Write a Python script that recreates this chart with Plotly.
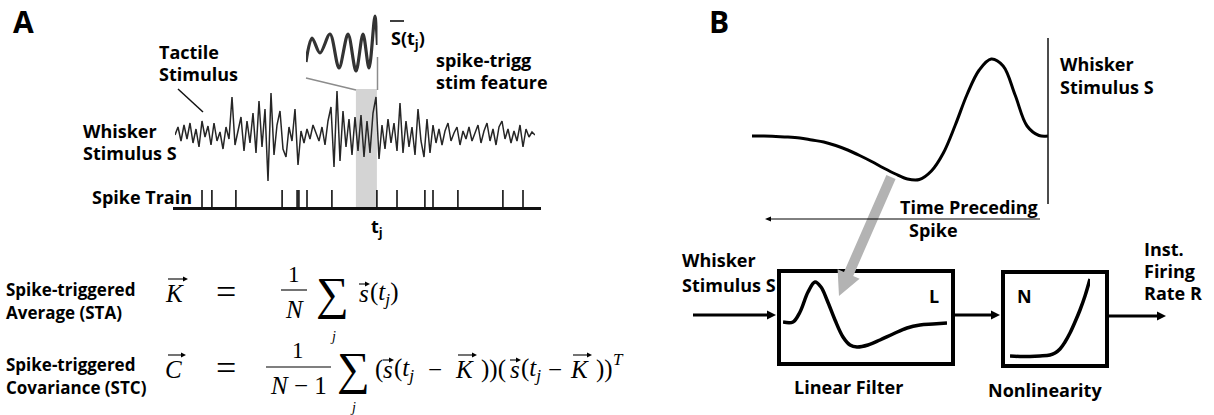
import plotly.graph_objects as go

W, H = 1214, 415

# ---------------- data ----------------
# Panel A: whisker stimulus trace (deflection, a.u.), uniformly sampled
whisker_signal = [0, 8, -6, 10, -4, 12, -8, 6, -12, 14, -2, 9, -10, 12, -6, 3, -14, 8, -4, 38,
                  -10, 6, 18, -16, 14, -8, 22, -18, 34, -12, 26, -46, 42, -20, 10, 24, -14, -22, 8, -6,
                  26, -30, 4, -8, 6, -4, 10, 2, -6, 8, -10, 14, 28, -32, 44, -26, 24, -12, 16, -20,
                  18, -16, 20, -22, 14, -18, 22, 38, -24, 10, -14, 16, -8, 12, -16, 32, -18, 14, -12, 8,
                  -20, 26, -6, -22, 16, -18, 10, -8, 6, -10, 4, 12, -6, 2, 8, -10, 4, -4, 8, -6,
                  3, 10, -8, 4, 12, -6, 6, -10, 8, 14, -4, 6, -8, 4, -6, 10, -12, 6, -2, 3, 0]
signal_time = list(range(len(whisker_signal)))

# spike times (same time units as the stimulus samples)
spike_times = [9, 12.3, 20.3, 35.7, 40.7, 41.3, 44, 52.3, 67.3, 74, 83.3, 86, 94.3, 109.3, 116]
t_j = 67.3
sta_window = 7.0

# inset: spike-triggered stimulus feature S(t_j)
inset_time = [0, 6, 14, 24, 33, 42, 50, 57, 63, 69, 71.5]
inset_vals = [18, 42, 27, 46, 12, 46, 9, 46, 12, 64, 35]

# Panel B: spike-triggered average vs time preceding spike
sta_lag = [-99, -95, -91, -87, -83, -79, -75, -71, -67, -63, -59, -55, -51, -47, -43, -39,
           -35, -31, -27, -23, -19, -15, -11, -7, -3, 0]
sta_vals = [0, 0, -0.5, -1, -2, -4, -6, -9.5, -14, -19.5, -25.5, -32, -38, -43, -43.5, -35,
            -17, 11, 42, 66, 77, 70, 41, 10, 0.5, 0]

# linear filter drawn in box L
filt_t = [0, 10, 17, 25, 32, 38, 44, 52, 60, 67, 74, 85, 97, 110, 124, 137, 150, 164]
filt_vals = [1, 1, 11, 31, 41, 36, 23, 3, -14, -22, -24, -22, -17, -11, -5, -2, -1, 0]

# static nonlinearity drawn in box N
nl_in = [0, 10, 20, 30, 40, 45, 50, 55, 60, 65, 70, 75, 80]
nl_out = [0, -0.5, -0.5, 0, 1, 3, 7, 14, 23, 34, 46, 60, 77]


# ---------------- helpers ----------------
def fx(x):
    return x / W


def fy(y):
    return 1 - y / H


layout = dict(width=W, height=H, margin=dict(l=0, r=0, t=0, b=0),
              paper_bgcolor="white", plot_bgcolor="rgba(0,0,0,0)", showlegend=False,
              xaxis=dict(visible=False, domain=[0, 0.01]), yaxis=dict(visible=False, domain=[0, 0.01]))


def axpair(n, xd, yd, xr, yr):
    layout[f"xaxis{n}"] = dict(domain=[fx(xd[0]), fx(xd[1])], range=xr, anchor=f"y{n}",
                               visible=False, fixedrange=True)
    layout[f"yaxis{n}"] = dict(domain=[fy(yd[1]), fy(yd[0])], range=yr, anchor=f"x{n}",
                               visible=False, fixedrange=True)


axpair(2, (175, 535), (85, 190), [0, 120], [-55, 50])          # stimulus
axpair(3, (173, 541), (190, 207), [-0.667, 122], [0, 1])       # spike train
layout["xaxis3"].update(visible=True, showline=True, linecolor="#111", linewidth=2.5,
                        showticklabels=False, ticks="", showgrid=False, zeroline=False)
axpair(4, (306, 377.5), (14, 80), [0, 71.5], [0, 66])          # inset
axpair(5, (752, 1048), (50, 190), [-99, 0], [-54, 86])         # STA panel B
axpair(6, (783, 947), (275, 355), [0, 164], [-32, 48])         # filter
axpair(7, (1010, 1090), (270, 360), [0, 80], [-4, 86])         # nonlinearity

fig = go.Figure()
fig.add_trace(go.Scatter(x=signal_time, y=whisker_signal, xaxis="x2", yaxis="y2", mode="lines",
                         line=dict(color="#262626", width=1.5), hoverinfo="skip"))
sx, sy = [], []
for t in spike_times:
    sx += [t, t, None]
    sy += [0, 1, None]
fig.add_trace(go.Scatter(x=sx, y=sy, xaxis="x3", yaxis="y3", mode="lines",
                         line=dict(color="#111", width=1.6), hoverinfo="skip"))
fig.add_trace(go.Scatter(x=inset_time, y=inset_vals, xaxis="x4", yaxis="y4", mode="lines",
                         line=dict(color="#333", width=3.2, shape="spline", smoothing=0.9),
                         hoverinfo="skip"))
fig.add_trace(go.Scatter(x=sta_lag, y=sta_vals, xaxis="x5", yaxis="y5", mode="lines",
                         line=dict(color="black", width=3, shape="spline", smoothing=1.0),
                         hoverinfo="skip"))
fig.add_trace(go.Scatter(x=filt_t, y=filt_vals, xaxis="x6", yaxis="y6", mode="lines",
                         line=dict(color="black", width=3.5, shape="spline", smoothing=1.0),
                         hoverinfo="skip"))
fig.add_trace(go.Scatter(x=nl_in, y=nl_out, xaxis="x7", yaxis="y7", mode="lines",
                         line=dict(color="black", width=3.5, shape="spline", smoothing=1.0),
                         hoverinfo="skip"))

shapes = []


def pline(x0, y0, x1, y1, color="black", width=1.5):
    shapes.append(dict(type="line", xref="paper", yref="paper", x0=fx(x0), y0=fy(y0),
                       x1=fx(x1), y1=fy(y1), line=dict(color=color, width=width)))


def ppoly(pts, color):
    path = "M " + " L ".join(f"{fx(x):.5f},{fy(y):.5f}" for x, y in pts) + " Z"
    shapes.append(dict(type="path", xref="paper", yref="paper", path=path,
                       fillcolor=color, line=dict(width=0)))


def harrow(x0, x1, y, width=3, hl=9, hw=8, color="black"):
    """horizontal arrow from x0 to x1 (head at x1)"""
    d = 1 if x1 > x0 else -1
    pline(x0, y, x1 - d * hl * 0.8, y, color, width)
    ppoly([(x1, y), (x1 - d * hl, y - hw / 2), (x1 - d * hl, y + hw / 2)], color)


# grey window preceding spike t_j
shapes.append(dict(type="rect", xref="x2", yref="paper", x0=t_j - sta_window, x1=t_j,
                   y0=fy(207), y1=fy(89), fillcolor="#d4d4d4", line=dict(width=0), layer="below"))
pline(178, 89, 203, 112, "#111", 1.5)          # tactile pointer
pline(306, 78, 356, 90, "#8c8c8c", 1.5)        # inset connectors
pline(377.5, 57, 377.5, 90, "#8c8c8c", 1.5)
pline(390, 21, 404, 21, "black", 1.5)          # overbar on S
pline(281, 290, 307, 290, "black", 1.1)        # fraction bars
pline(266, 367, 331, 367, "black", 1.1)
pline(1048, 38, 1048, 204, "#111", 1.5)        # spike time marker (panel B)
# boxes
for (x0, y0, x1, y1) in [(779, 271, 953, 364), (1003, 272, 1107, 366)]:
    shapes.append(dict(type="rect", xref="paper", yref="paper", x0=fx(x0), y0=fy(y1),
                       x1=fx(x1), y1=fy(y0), line=dict(color="black", width=4)))
# grey arrow from STA to filter box
ppoly([(895.6, 179), (853.2, 276), (859.6, 278.8), (839, 296), (837.6, 269.2), (844, 272), (886.4, 175)],
      "#b3b3b3")
# black arrows
harrow(1040, 765, 219, width=1, hl=6, hw=5)
harrow(693, 776, 315, width=3.2, hl=9, hw=9)
harrow(953, 1000, 315, width=3.2, hl=9, hw=9)
harrow(1107, 1166, 316, width=3.2, hl=9, hw=9)
# vector arrows above symbols
for (xa, xb, y) in [(168, 188, 279), (359, 370, 284),
                    (168, 186, 355), (383, 394, 360), (458, 477, 355), (510, 521, 360), (573, 592, 355)]:
    harrow(xa, xb, y, width=1.1, hl=5, hw=5)

layout["shapes"] = shapes

ann = []
SANS = "Open Sans, Arial, sans-serif"
SERIF = "Liberation Serif, Times New Roman, serif"


def txt(x, y, s, size=18, family=SANS, xanchor="left", bold=True, color="black"):
    ann.append(dict(xref="paper", yref="paper", x=fx(x), y=fy(y), xanchor=xanchor, yanchor="middle",
                    text=(f"<b>{s}</b>" if bold else s), showarrow=False,
                    font=dict(family=family, size=size, color=color)))


def mtxt(x, y, s, size=25, xanchor="left"):
    txt(x, y, s, size=size, family=SERIF, xanchor=xanchor, bold=False)


# panel A texts
txt(11, 22, "A", size=30)
txt(157, 52, "Tactile")
txt(157, 74, "Stimulus")
txt(81, 131, "Whisker")
txt(81, 153, "Stimulus S")
txt(90, 197, "Spike Train")
txt(369, 227, "t<sub>j</sub>")
txt(389, 40, "S(t<sub>j</sub>)")
txt(434, 60, "spike-trigg")
txt(434, 82, "stim feature")
txt(4, 289, "Spike-triggered", size=17)
txt(4, 312, "Average (STA)", size=17)
txt(4, 364, "Spike-triggered", size=17)
txt(4, 387, "Covariance (STC)", size=17)

# formula 1: STA
mtxt(163, 293, "<i>K</i>")
mtxt(226, 292, "=", size=36, xanchor="center")
mtxt(294, 274, "1", size=23, xanchor="center")
mtxt(294, 309, "<i>N</i>", xanchor="center")
mtxt(333, 293, "\u2211", size=46, xanchor="center")
mtxt(333, 336, "<i>j</i>", size=14, xanchor="center")
mtxt(357, 293, "<i>s</i>")
mtxt(368, 293, "(<i>t<sub>j</sub></i>)")

# formula 2: STC
mtxt(163, 369, "<i>C</i>")
mtxt(226, 368, "=", size=36, xanchor="center")
mtxt(298, 350, "1", size=23, xanchor="center")
mtxt(298, 385, "<i>N</i> \u2212 1", xanchor="center")
mtxt(353, 368, "\u2211", size=46, xanchor="center")
mtxt(353, 407, "<i>j</i>", size=14, xanchor="center")
for xl, s in [(373, "("), (381, "<i>s</i>"), (392, "(<i>t<sub>j</sub></i>"), (426, "\u2212"),
              (453, "<i>K</i>"), (479, "))("), (508, "<i>s</i>"), (519, "(<i>t<sub>j</sub></i>"),
              (546, "\u2212"), (568, "<i>K</i>"), (594, "))")]:
    mtxt(xl, 369, s)
mtxt(611, 359, "<i>T</i>", size=17)

# panel B texts
txt(707, 22, "B", size=30)
txt(1058, 64, "Whisker")
txt(1058, 87, "Stimulus S")
txt(898, 207, "Time Preceding")
txt(907, 230, "Spike")
txt(680, 260, "Whisker")
txt(680, 285, "Stimulus S")
txt(927, 296, "L")
txt(1015, 296, "N")
txt(1142, 249, "Inst.")
txt(1142, 271, "Firing")
txt(1142, 293, "Rate R")
txt(792, 387, "Linear Filter")
txt(986, 390, "Nonlinearity")

layout["annotations"] = ann
fig.update_layout(**layout)
fig.write_html("out.html")
